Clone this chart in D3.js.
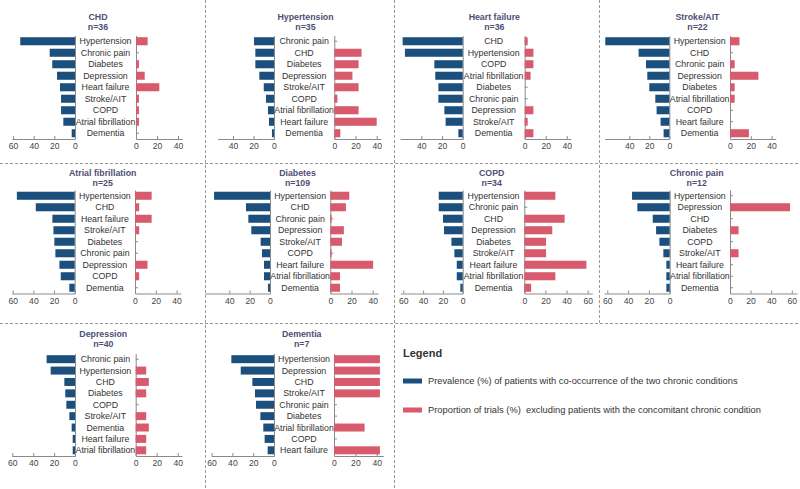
<!DOCTYPE html>
<html><head><meta charset="utf-8">
<script src="https://cdn.jsdelivr.net/npm/d3@7"></script>
<style>
html,body{margin:0;padding:0;background:#fff;}
svg{display:block;font-family:"Liberation Sans",Arial,sans-serif;}
.axis path,.axis line{stroke:#8a8a8a;stroke-width:1;}
.axis text{fill:#444;font-size:8.6px;}
</style></head>
<body>
<svg id="chart" width="800" height="489"></svg>
<script>
// ---------- DATA ----------
const panelTitles = ["CHD","Hypertension","Heart failure","Stroke/AIT","Atrial fibrillation","Diabetes","COPD","Chronic pain","Depression","Dementia"];
const panelN = [36,35,36,22,25,109,34,12,40,7];

const chdCategories = ["Hypertension","Chronic pain","Diabetes","Depression","Heart failure","Stroke/AIT","COPD","Atrial fibrillation","Dementia"];
const chdPrevalence = [53,24.5,22,17.4,14.5,13.5,13.5,11.3,3.2];
const chdExcluded   = [11.1,0,2.8,8.3,22.2,2.8,2.8,2.8,0];

const htnCategories = ["Chronic pain","CHD","Diabetes","Depression","Stroke/AIT","COPD","Atrial fibrillation","Heart failure","Dementia"];
const htnPrevalence = [19.5,18.2,18.2,14.3,10,7.8,5.9,4.9,2];
const htnExcluded   = [0,25.7,22.9,17.1,22.9,2.9,22.9,40,5.7];

const hfCategories = ["CHD","Hypertension","COPD","Atrial fibrillation","Diabetes","Chronic pain","Depression","Stroke/AIT","Dementia"];
const hfPrevalence = [58,55.8,27.4,26.5,23.5,23.5,17.7,16.5,4.2];
const hfExcluded   = [2.8,8.3,8.3,5.6,0,0,8.3,2.8,8.3];

const strokeCategories = ["Hypertension","CHD","Chronic pain","Depression","Diabetes","Atrial fibrillation","COPD","Heart failure","Dementia"];
const strokePrevalence = [64,30.7,23.3,22,20,14,12.7,8.7,5.7];
const strokeExcluded   = [9.1,0,4.5,27.3,4.5,4.5,0,0,18.2];

const afCategories = ["Hypertension","CHD","Heart failure","Stroke/AIT","Diabetes","Chronic pain","Depression","COPD","Dementia"];
const afPrevalence = [56,37.7,21.6,20.6,19.7,18.7,14.8,13.5,5.2];
const afExcluded   = [16,4,16,4,0,0,12,4,0];

const diabCategories = ["Hypertension","CHD","Chronic pain","Depression","Stroke/AIT","COPD","Heart failure","Atrial fibrillation","Dementia"];
const diabPrevalence = [55,23.6,21.3,18.4,9.2,7.9,5.9,5.9,2];
const diabExcluded   = [17.9,14.7,1.2,12.8,11,1.2,40.4,9.2,9.2];

const copdCategories = ["Hypertension","Chronic pain","CHD","Depression","Diabetes","Stroke/AIT","Heart failure","Atrial fibrillation","Dementia"];
const copdPrevalence = [24.2,24.2,19.9,18.9,11.4,8.4,6,6,2.4];
const copdExcluded   = [29.4,0,38.2,26.5,20.6,20.6,58.8,29.4,6.5];

const painCategories = ["Hypertension","Depression","CHD","Diabetes","COPD","Stroke/AIT","Heart failure","Atrial fibrillation","Dementia"];
const painPrevalence = [36.2,31.1,16.3,13.1,9.9,6.1,3.2,3.2,3.2];
const painExcluded   = [0,58.3,0,8.3,0,8.3,0,0,0];

const deprCategories = ["Chronic pain","Hypertension","CHD","Diabetes","COPD","Stroke/AIT","Dementia","Heart failure","Atrial fibrillation"];
const deprPrevalence = [27.2,23.3,10.2,9.3,8.3,5.4,3.2,2.2,2.2];
const deprExcluded   = [0,10,12.5,10,0,10,12.5,10,10];

const demCategories = ["Hypertension","Depression","CHD","Stroke/AIT","Chronic pain","Diabetes","Atrial fibrillation","COPD","Heart failure"];
const demPrevalence = [41,32,20.8,18.3,17.3,13.1,10.3,9,6.1];
const demExcluded   = [42.9,42.9,42.9,42.9,0,0,28.6,0,42.9];

const blueTickValues = [[0,20,40,60],[0,20,40],[0,20,40],[0,20,40],[0,20,40,60],[0,20,40],[0,20,40,60],[0,20,40,60],[0,20,40,60],[0,20,40,60]];
const redTickValues  = [[0,20,40],[0,20,40],[0,20,40],[0,20,40],[0,20,40],[0,20,40],[0,20,40,60],[0,20,40,60],[0,20,40],[0,20,40]];
const blueAxisMax = [61,55,60.5,64.6,61,64,63,63,60.6,60.5];
const redAxisMax  = [44,44,44,44,44,45,64.5,65,44,46];

const legendTitle = "Legend";
const legendLabels = ["Prevalence (%) of patients with co-occurrence of the two chronic conditions",
                      "Proportion of trials (%)  excluding patients with the concomitant chronic condition"];

const allCategories = [chdCategories,htnCategories,hfCategories,strokeCategories,afCategories,diabCategories,copdCategories,painCategories,deprCategories,demCategories];
const allPrevalence = [chdPrevalence,htnPrevalence,hfPrevalence,strokePrevalence,afPrevalence,diabPrevalence,copdPrevalence,painPrevalence,deprPrevalence,demPrevalence];
const allExcluded   = [chdExcluded,htnExcluded,hfExcluded,strokeExcluded,afExcluded,diabExcluded,copdExcluded,painExcluded,deprExcluded,demExcluded];

// ---------- LAYOUT ----------
const BLUE = "#1b4f7d", RED = "#d75a6d";
const layout = [
  {bz:75,   bs:1.033, rz:136,   rs:1.05,  row:0, tx:98},
  {bz:274,  bs:1.025, rz:334.3, rs:1.06,  row:0, tx:305.5},
  {bz:462.7,bs:1.035, rz:524.7, rs:1.05,  row:0, tx:494.3},
  {bz:669.3,bs:1.0,   rz:730,   rs:1.04,  row:0, tx:697.5},
  {bz:74.7, bs:1.033, rz:135,   rs:1.04,  row:1, tx:102.7},
  {bz:270,  bs:1.017, rz:330.3, rs:1.06,  row:1, tx:297.5},
  {bz:462.7,bs:0.99,  rz:524.3, rs:1.056, row:1, tx:491.7},
  {bz:669.7,bs:1.04,  rz:730,   rs:1.03,  row:1, tx:696.7},
  {bz:75,   bs:1.044, rz:135.7, rs:1.05,  row:2, tx:103.3},
  {bz:274,  bs:1.04,  rz:334,   rs:1.07,  row:2, tx:301.7}
];
const rowGeom = [
  {title:17.5, top:35.5, axis:139},
  {title:173.5, top:190, axis:293.5},
  {title:335, top:353.5, axis:456}
];

const svg = d3.select("#chart");

const sep = svg.append("g").attr("stroke","#9a9a9a").attr("stroke-width",1).attr("stroke-dasharray","3,2").attr("fill","none");
sep.append("line").attr("x1",0).attr("x2",800).attr("y1",163.5).attr("y2",163.5);
sep.append("line").attr("x1",0).attr("x2",800).attr("y1",323.5).attr("y2",323.5);
sep.append("line").attr("x1",205.5).attr("x2",205.5).attr("y1",0).attr("y2",489);
sep.append("line").attr("x1",394.5).attr("x2",394.5).attr("y1",0).attr("y2",489);
sep.append("line").attr("x1",599.5).attr("x2",599.5).attr("y1",0).attr("y2",323.5);

panelTitles.forEach((title,i)=>{
  const L = layout[i], R = rowGeom[L.row];
  const cats = allCategories[i];
  const g = svg.append("g");

  const y = d3.scaleBand().domain(cats).range([R.top, R.axis]).paddingInner(0.3).paddingOuter(0.15);
  const xb = d3.scaleLinear().domain([0, blueAxisMax[i]]).range([L.bz, L.bz - blueAxisMax[i]*L.bs]);
  const xr = d3.scaleLinear().domain([0, redAxisMax[i]]).range([L.rz, L.rz + redAxisMax[i]*L.rs]);

  g.append("text").attr("x",L.tx).attr("y",R.title).attr("text-anchor","middle")
    .attr("dominant-baseline","middle").attr("font-size","8.8px").attr("font-weight","bold")
    .attr("fill","#4f5072").text(title);
  g.append("text").attr("x",L.tx).attr("y",R.title+10).attr("text-anchor","middle")
    .attr("dominant-baseline","middle").attr("font-size","8.8px").attr("font-weight","bold")
    .attr("fill","#4f5072").text("n=" + panelN[i]);

  g.append("g").attr("class","axis").attr("transform",`translate(0,${R.axis})`)
    .call(d3.axisBottom(xb).tickValues(blueTickValues[i]).tickSizeInner(-3).tickSizeOuter(0).tickPadding(4));
  g.append("g").attr("class","axis").attr("transform",`translate(0,${R.axis})`)
    .call(d3.axisBottom(xr).tickValues(redTickValues[i]).tickSizeInner(-3).tickSizeOuter(0).tickPadding(4));

  g.append("g").attr("class","axis").attr("transform",`translate(${L.bz},0)`)
    .call(d3.axisLeft(y).tickSize(0).tickFormat(""));
  g.append("g").attr("class","axis").attr("transform",`translate(${L.rz},0)`)
    .call(d3.axisRight(y).tickSizeInner(3).tickSizeOuter(0).tickFormat(""));

  g.selectAll(".pb").data(cats).join("rect")
    .attr("x", (c,k)=>xb(allPrevalence[i][k]))
    .attr("width",(c,k)=>xb(0)-xb(allPrevalence[i][k]))
    .attr("y", c=>y(c)).attr("height", y.bandwidth()).attr("fill",BLUE);
  g.selectAll(".eb").data(cats).join("rect")
    .attr("x", xr(0))
    .attr("width",(c,k)=>xr(allExcluded[i][k])-xr(0))
    .attr("y", c=>y(c)).attr("height", y.bandwidth()).attr("fill",RED);

  g.selectAll(".cl").data(cats).join("text")
    .attr("x",(L.bz+L.rz)/2).attr("y",c=>y(c)+y.bandwidth()/2)
    .attr("text-anchor","middle").attr("dominant-baseline","central")
    .attr("font-size","8.8px").attr("fill","#333").text(c=>c);
});

// legend
const lg = svg.append("g");
lg.append("text").attr("x",403).attr("y",357).attr("font-size","11px").attr("font-weight","bold").attr("fill","#333").text(legendTitle);
const legColors = [BLUE, RED];
const legY = [381, 410];
const legW = [310, 333];
legendLabels.forEach((t,k)=>{
  lg.append("rect").attr("x",403).attr("y",legY[k]-2.5).attr("width",19).attr("height",5).attr("fill",legColors[k]);
  const txt = lg.append("text").attr("x",428).attr("y",legY[k]).attr("dominant-baseline","central")
    .attr("font-size","10px").attr("fill","#333").attr("xml:space","preserve").text(t);
  const w = txt.node().getComputedTextLength();
  if (w > 0) txt.attr("font-size", (10*legW[k]/w).toFixed(2) + "px");
});
</script>
</body></html>
